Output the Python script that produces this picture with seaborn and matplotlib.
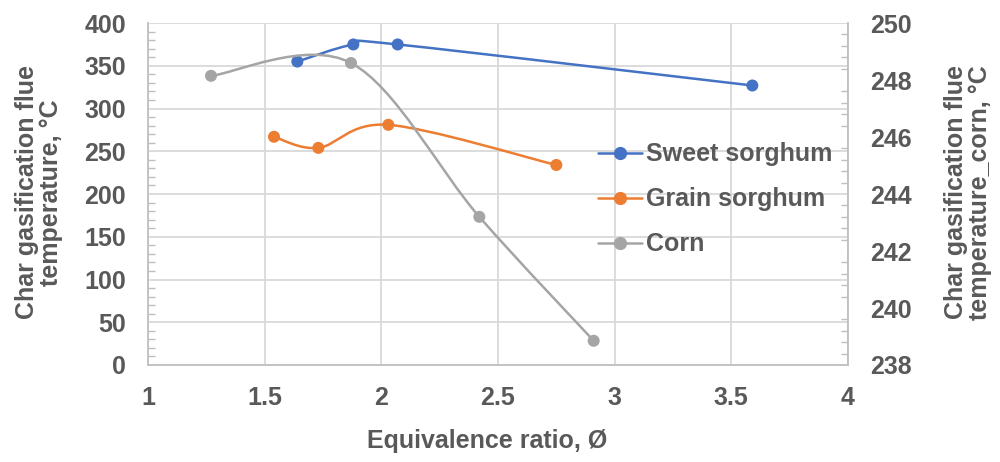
import numpy as np
import pandas as pd
import matplotlib
matplotlib.use('Agg')
import matplotlib.pyplot as plt
import seaborn as sns
from matplotlib.path import Path
from matplotlib.patches import PathPatch
from matplotlib.lines import Line2D
from matplotlib.ticker import MultipleLocator

# data
sweet_x = [1.64, 1.88, 2.07, 3.59]
sweet_y = [355, 375, 375, 327]
grain_x = [1.54, 1.73, 2.03, 2.75]
grain_y = [267, 254, 281, 234]
corn_x = [1.27, 1.87, 2.42, 2.91]
corn_y = [248.15, 248.6, 243.2, 238.85]

C_SWEET = '#4472C4'
C_GRAIN = '#ED7D31'
C_CORN = '#A5A5A5'
TXT = '#595959'
GRID = '#D9D9D9'
FS = 18

sns.set_theme(style='white')
plt.rcParams['font.family'] = ['Liberation Sans', 'DejaVu Sans']
plt.rcParams['font.weight'] = 'bold'


def smooth_path(xs, ys):
    # Catmull-Rom style smoothing (like Excel "smoothed line"), as bezier path
    pts = np.column_stack([xs, ys]).astype(float)
    n = len(pts)
    verts = [pts[0]]
    codes = [Path.MOVETO]
    for i in range(n - 1):
        p0 = pts[i - 1] if i > 0 else pts[i]
        p1 = pts[i]
        p2 = pts[i + 1]
        p3 = pts[i + 2] if i + 2 < n else pts[i + 1]
        c1 = p1 + (p2 - p0) / 6.0
        c2 = p2 - (p3 - p1) / 6.0
        verts += [c1, c2, p2]
        codes += [Path.CURVE4] * 3
    return Path(verts, codes)


fig = plt.figure(figsize=(10, 4.62), dpi=100)
ax = fig.add_axes([0.148, 0.21, 0.70, 0.74])
ax2 = ax.twinx()

lw = 1.8
ms = 75
for xs, ys, col, a in [(sweet_x, sweet_y, C_SWEET, ax), (grain_x, grain_y, C_GRAIN, ax),
                       (corn_x, corn_y, C_CORN, ax2)]:
    a.add_patch(PathPatch(smooth_path(xs, ys), facecolor='none', edgecolor=col, lw=lw, zorder=3))
    df = pd.DataFrame({'x': xs, 'y': ys})
    sns.scatterplot(data=df, x='x', y='y', ax=a, color=col, s=ms, edgecolor='none', zorder=4, legend=False)

ax.set_xlim(1, 4)
ax.set_ylim(0, 400)
ax2.set_ylim(238, 250)
ax.xaxis.set_minor_locator(MultipleLocator(0.1))
ax.yaxis.set_major_locator(MultipleLocator(50))
ax.yaxis.set_minor_locator(MultipleLocator(10))
ax2.yaxis.set_major_locator(MultipleLocator(2))
ax2.yaxis.set_minor_locator(MultipleLocator(0.4))
ax.set_xticks([1, 1.5, 2, 2.5, 3, 3.5, 4])
ax.set_xticklabels(['1', '1.5', '2', '2.5', '3', '3.5', '4'])

ax.grid(True, which='major', color=GRID, lw=1.3)
ax.set_axisbelow(True)

for a in (ax, ax2):
    for s in a.spines.values():
        s.set_visible(False)
    a.set_xlabel('')
    a.set_ylabel('')
ax.spines['left'].set_visible(True)
ax.spines['bottom'].set_visible(True)
ax2.spines['right'].set_visible(True)
for s in (ax.spines['left'], ax.spines['bottom'], ax2.spines['right']):
    s.set_color('#BFBFBF')
    s.set_linewidth(1.3)

ax.tick_params(axis='y', which='major', length=0, labelsize=FS, labelcolor=TXT, pad=16)
ax.tick_params(axis='x', which='major', length=0, labelsize=FS, labelcolor=TXT, pad=15)
ax.tick_params(axis='both', which='minor', direction='in', length=5, color='#BFBFBF', width=1)
ax2.tick_params(axis='y', which='major', length=0, labelsize=FS, labelcolor=TXT, pad=16)
ax2.tick_params(axis='y', which='minor', direction='in', length=5, color='#BFBFBF', width=1)
for lab in ax.get_xticklabels() + ax.get_yticklabels() + ax2.get_yticklabels():
    lab.set_fontweight('bold')

fig.text(0.487, 0.046, 'Equivalence ratio, Ø', ha='center', va='center', fontsize=FS,
         fontweight='bold', color=TXT)
fig.text(0.039, 0.584, 'Char gasification flue\ntemperature, °C', ha='center', va='center',
         rotation=90, fontsize=FS, fontweight='bold', color=TXT, linespacing=0.95)
fig.text(0.968, 0.584, 'Char gasification flue\ntemperature_corn, °C', ha='center', va='center',
         rotation=90, fontsize=FS, fontweight='bold', color=TXT, linespacing=1.05)

handles = [Line2D([], [], color=c, lw=lw, marker='o', markersize=8.5) for c in (C_SWEET, C_GRAIN, C_CORN)]
leg = ax2.legend(handles, ['Sweet sorghum', 'Grain sorghum', 'Corn'], loc='upper left',
                 bbox_to_anchor=(0.598, 0.692), bbox_transform=fig.transFigure, frameon=False,
                 handlelength=1.76, handletextpad=0.16, labelspacing=0.84,
                 borderpad=0, borderaxespad=0, prop={'weight': 'bold', 'size': FS})
for t in leg.get_texts():
    t.set_color(TXT)

fig.savefig('out.png', dpi=100)
